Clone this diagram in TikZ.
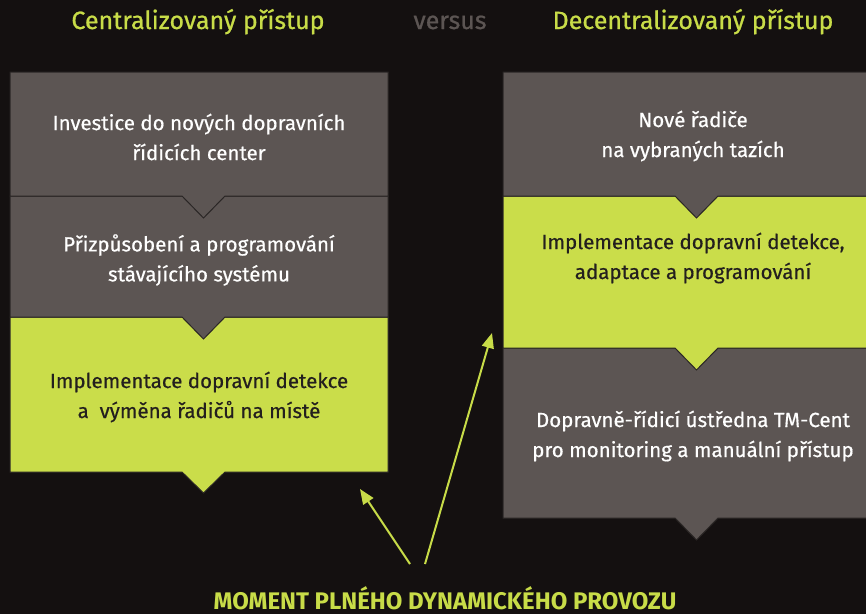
\documentclass[tikz,border=0pt]{standalone}
\usepackage{fontspec}
\setmainfont{Fira Sans}
\newfontfamily\bodyfont{Fira Sans}[FakeBold=0.5]
\newfontfamily\headfont{Fira Sans}[FakeBold=0.8]
\usetikzlibrary{arrows.meta}
\definecolor{bg}{HTML}{141010}
\definecolor{boxgray}{HTML}{5C5553}
\definecolor{lime}{HTML}{CADD4A}
\definecolor{edge}{HTML}{2A2625}
\definecolor{titlegreen}{HTML}{C8DC48}
\definecolor{darktext}{HTML}{231F1E}
\tikzset{
  graybox/.style={fill=boxgray, draw=edge, line width=1pt},
  limebox/.style={fill=lime, draw=edge, line width=1pt},
  wtext/.style={text=white, align=center, font=\bodyfont\fontsize{20.5}{30}\selectfont},
  dtext/.style={text=darktext, align=center, font=\bodyfont\fontsize{20.5}{30}\selectfont},
  heading/.style={text=titlegreen, anchor=base, font=\headfont\fontsize{25}{28}\selectfont},
  vsstyle/.style={text=boxgray, anchor=base, font=\headfont\fontsize{25}{28}\selectfont},
  moment/.style={text=titlegreen, anchor=base, inner sep=0pt, font=\bfseries\fontsize{24}{28}\selectfont},
  arr/.style={draw=titlegreen, line width=2pt, -{Triangle[length=15pt,width=12pt]}}
}
\begin{document}
\begin{tikzpicture}[x=1pt,y=-1pt]
\useasboundingbox (0,0) rectangle (866,614);
\fill[bg] (0,0) rectangle (866,614);

% left column (bottom first)
\path[limebox] (10,317) -- (388,317) -- (388,472) -- (225,472) -- (203.5,493) -- (182,472) -- (10,472) -- cycle;
\path[graybox] (10,196) -- (388,196) -- (388,317) -- (225,317) -- (203.5,339) -- (182,317) -- (10,317) -- cycle;
\path[graybox] (10,72) -- (388,72) -- (388,196) -- (225,196) -- (203.5,218) -- (182,196) -- (10,196) -- cycle;

% right column (bottom first)
\path[graybox] (503,348) -- (892,348) -- (892,518) -- (718,518) -- (696.5,540) -- (675,518) -- (503,518) -- cycle;
\path[limebox] (503,196) -- (892,196) -- (892,348) -- (718,348) -- (696.5,370) -- (675,348) -- (503,348) -- cycle;
\path[graybox] (503,72) -- (892,72) -- (892,196) -- (718,196) -- (696.5,218) -- (675,196) -- (503,196) -- cycle;

% headings
\node[heading] (tc) at (198,29) {Centralizovaný přístup};
\node[vsstyle] (vs) at (450,29) {versus};
\node[heading] (td) at (693,29) {Decentralizovaný přístup};

% texts
\node[wtext] (l1) at (199,137) {Investice do nových dopravních\\řídicích center};
\node[wtext] (l2) at (199,260) {Přizpůsobení a programování\\stávajícího systému};
\node[dtext] (l3) at (199,397) {Implementace dopravní detekce\\a\ \ výměna řadičů na místě};
\node[wtext] (r1) at (693,136) {Nové řadiče\\na vybraných tazích};
\node[dtext] (r2) at (693,258) {Implementace dopravní detekce,\\adaptace a programování};
\node[wtext] (r3) at (693,436) {Dopravně-řídicí ústředna TM-Cent\\pro monitoring a manuální přístup};

% bottom label and arrows
\node[moment] (m) at (445,609) {MOMENT PLNÉHO DYNAMICKÉHO PROVOZU};
\coordinate (a1s) at (410,564);
\coordinate (a1e) at (360,489);
\coordinate (a2s) at (425,564);
\coordinate (a2e) at (492,333);
\draw[arr] (a1s) -- (a1e);
\draw[arr] (a2s) -- (a2e);
\end{tikzpicture}
\end{document}
